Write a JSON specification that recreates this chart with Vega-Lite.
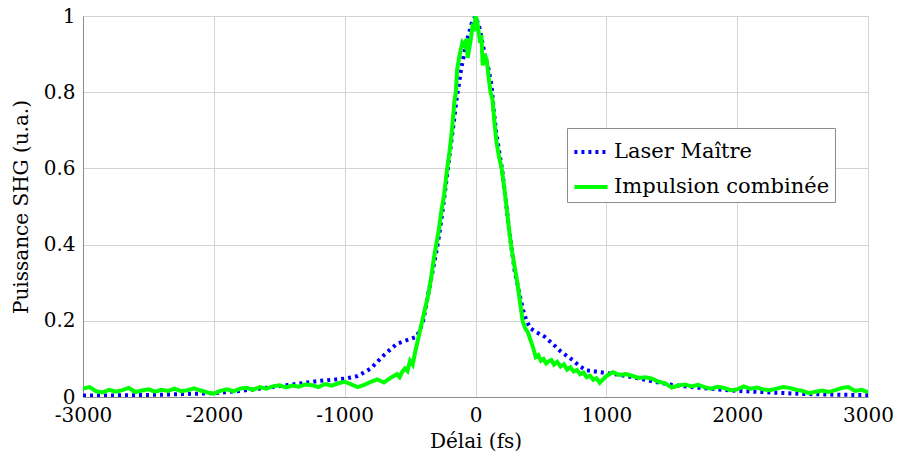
{
  "$schema": "https://vega.github.io/schema/vega-lite/v6.json",
  "width": 785,
  "height": 381,
  "autosize": {"type": "none"},
  "padding": {"left": 83, "top": 16, "right": 30, "bottom": 62},
  "background": "white",
  "config": {
    "view": {"stroke": "#8c8c8c", "strokeWidth": 1},
    "font": "DejaVu Serif"
  },
  "datasets": {
    "laser": [
      {"t": -3000, "p": 0.004, "s": "Laser Maître"}, {"t": -2800, "p": 0.004, "s": "Laser Maître"}, {"t": -2600, "p": 0.005, "s": "Laser Maître"}, {"t": -2400, "p": 0.006, "s": "Laser Maître"}, {"t": -2200, "p": 0.008, "s": "Laser Maître"}, {"t": -2000, "p": 0.010, "s": "Laser Maître"}, {"t": -1800, "p": 0.016, "s": "Laser Maître"}, {"t": -1600, "p": 0.024, "s": "Laser Maître"}, {"t": -1400, "p": 0.033, "s": "Laser Maître"}, {"t": -1200, "p": 0.042, "s": "Laser Maître"}, {"t": -1000, "p": 0.048, "s": "Laser Maître"}, {"t": -900, "p": 0.055, "s": "Laser Maître"}, {"t": -800, "p": 0.075, "s": "Laser Maître"}, {"t": -700, "p": 0.11, "s": "Laser Maître"}, {"t": -600, "p": 0.14, "s": "Laser Maître"}, {"t": -500, "p": 0.152, "s": "Laser Maître"}, {"t": -450, "p": 0.158, "s": "Laser Maître"}, {"t": -420, "p": 0.18, "s": "Laser Maître"}, {"t": -400, "p": 0.20, "s": "Laser Maître"}, {"t": -350, "p": 0.29, "s": "Laser Maître"}, {"t": -300, "p": 0.38, "s": "Laser Maître"}, {"t": -275, "p": 0.43, "s": "Laser Maître"}, {"t": -240, "p": 0.52, "s": "Laser Maître"}, {"t": -200, "p": 0.63, "s": "Laser Maître"}, {"t": -170, "p": 0.71, "s": "Laser Maître"}, {"t": -145, "p": 0.78, "s": "Laser Maître"}, {"t": -110, "p": 0.86, "s": "Laser Maître"}, {"t": -70, "p": 0.93, "s": "Laser Maître"}, {"t": -30, "p": 0.98, "s": "Laser Maître"}, {"t": 0, "p": 1.0, "s": "Laser Maître"}, {"t": 30, "p": 0.97, "s": "Laser Maître"}, {"t": 70, "p": 0.9, "s": "Laser Maître"}, {"t": 100, "p": 0.86, "s": "Laser Maître"}, {"t": 122, "p": 0.82, "s": "Laser Maître"}, {"t": 140, "p": 0.75, "s": "Laser Maître"}, {"t": 160, "p": 0.69, "s": "Laser Maître"}, {"t": 206, "p": 0.59, "s": "Laser Maître"}, {"t": 230, "p": 0.52, "s": "Laser Maître"}, {"t": 260, "p": 0.43, "s": "Laser Maître"}, {"t": 300, "p": 0.33, "s": "Laser Maître"}, {"t": 336, "p": 0.27, "s": "Laser Maître"}, {"t": 370, "p": 0.22, "s": "Laser Maître"}, {"t": 390, "p": 0.20, "s": "Laser Maître"}, {"t": 420, "p": 0.18, "s": "Laser Maître"}, {"t": 466, "p": 0.17, "s": "Laser Maître"}, {"t": 530, "p": 0.158, "s": "Laser Maître"}, {"t": 589, "p": 0.14, "s": "Laser Maître"}, {"t": 650, "p": 0.12, "s": "Laser Maître"}, {"t": 742, "p": 0.097, "s": "Laser Maître"}, {"t": 800, "p": 0.08, "s": "Laser Maître"}, {"t": 849, "p": 0.07, "s": "Laser Maître"}, {"t": 1000, "p": 0.063, "s": "Laser Maître"}, {"t": 1100, "p": 0.058, "s": "Laser Maître"}, {"t": 1200, "p": 0.052, "s": "Laser Maître"}, {"t": 1300, "p": 0.045, "s": "Laser Maître"}, {"t": 1400, "p": 0.038, "s": "Laser Maître"}, {"t": 1500, "p": 0.032, "s": "Laser Maître"}, {"t": 1600, "p": 0.028, "s": "Laser Maître"}, {"t": 1713, "p": 0.024, "s": "Laser Maître"}, {"t": 1850, "p": 0.02, "s": "Laser Maître"}, {"t": 2000, "p": 0.016, "s": "Laser Maître"}, {"t": 2250, "p": 0.012, "s": "Laser Maître"}, {"t": 2500, "p": 0.008, "s": "Laser Maître"}, {"t": 2750, "p": 0.006, "s": "Laser Maître"}, {"t": 3000, "p": 0.005, "s": "Laser Maître"}
    ],
    "combo": [
      {"t": -3000, "p": 0.022}, {"t": -2950, "p": 0.026}, {"t": -2900, "p": 0.015}, {"t": -2850, "p": 0.012}, {"t": -2800, "p": 0.019}, {"t": -2750, "p": 0.014}, {"t": -2700, "p": 0.018}, {"t": -2650, "p": 0.024}, {"t": -2600, "p": 0.013}, {"t": -2550, "p": 0.017}, {"t": -2500, "p": 0.020}, {"t": -2450, "p": 0.014}, {"t": -2400, "p": 0.019}, {"t": -2350, "p": 0.016}, {"t": -2300, "p": 0.022}, {"t": -2250, "p": 0.015}, {"t": -2200, "p": 0.018}, {"t": -2150, "p": 0.023}, {"t": -2100, "p": 0.017}, {"t": -2050, "p": 0.012}, {"t": -2000, "p": 0.009}, {"t": -1950, "p": 0.016}, {"t": -1900, "p": 0.020}, {"t": -1850, "p": 0.015}, {"t": -1800, "p": 0.022}, {"t": -1750, "p": 0.024}, {"t": -1700, "p": 0.019}, {"t": -1650, "p": 0.026}, {"t": -1600, "p": 0.022}, {"t": -1550, "p": 0.028}, {"t": -1500, "p": 0.031}, {"t": -1450, "p": 0.025}, {"t": -1400, "p": 0.030}, {"t": -1350, "p": 0.027}, {"t": -1300, "p": 0.033}, {"t": -1250, "p": 0.031}, {"t": -1200, "p": 0.026}, {"t": -1150, "p": 0.034}, {"t": -1100, "p": 0.030}, {"t": -1050, "p": 0.036}, {"t": -1000, "p": 0.040}, {"t": -950, "p": 0.033}, {"t": -900, "p": 0.026}, {"t": -850, "p": 0.032}, {"t": -800, "p": 0.040}, {"t": -750, "p": 0.046}, {"t": -700, "p": 0.038}, {"t": -650, "p": 0.050}, {"t": -600, "p": 0.060}, {"t": -580, "p": 0.052}, {"t": -560, "p": 0.066}, {"t": -540, "p": 0.075}, {"t": -520, "p": 0.068}, {"t": -500, "p": 0.095}, {"t": -480, "p": 0.085}, {"t": -460, "p": 0.12}, {"t": -440, "p": 0.15}, {"t": -420, "p": 0.18}, {"t": -400, "p": 0.21}, {"t": -380, "p": 0.24}, {"t": -360, "p": 0.27}, {"t": -340, "p": 0.31}, {"t": -320, "p": 0.36}, {"t": -300, "p": 0.40}, {"t": -280, "p": 0.44}, {"t": -260, "p": 0.49}, {"t": -240, "p": 0.53}, {"t": -220, "p": 0.59}, {"t": -200, "p": 0.64}, {"t": -180, "p": 0.70}, {"t": -160, "p": 0.78}, {"t": -150, "p": 0.80}, {"t": -140, "p": 0.86}, {"t": -120, "p": 0.90}, {"t": -100, "p": 0.93}, {"t": -80, "p": 0.92}, {"t": -70, "p": 0.94}, {"t": -60, "p": 0.89}, {"t": -40, "p": 0.93}, {"t": -20, "p": 0.98}, {"t": -10, "p": 0.96}, {"t": 0, "p": 1.0}, {"t": 10, "p": 0.99}, {"t": 20, "p": 0.97}, {"t": 35, "p": 0.93}, {"t": 45, "p": 0.95}, {"t": 55, "p": 0.87}, {"t": 70, "p": 0.90}, {"t": 85, "p": 0.885}, {"t": 100, "p": 0.84}, {"t": 115, "p": 0.80}, {"t": 130, "p": 0.78}, {"t": 145, "p": 0.72}, {"t": 160, "p": 0.67}, {"t": 180, "p": 0.63}, {"t": 200, "p": 0.60}, {"t": 220, "p": 0.55}, {"t": 240, "p": 0.49}, {"t": 260, "p": 0.43}, {"t": 280, "p": 0.38}, {"t": 300, "p": 0.34}, {"t": 320, "p": 0.30}, {"t": 340, "p": 0.25}, {"t": 360, "p": 0.20}, {"t": 380, "p": 0.18}, {"t": 400, "p": 0.17}, {"t": 420, "p": 0.15}, {"t": 440, "p": 0.13}, {"t": 460, "p": 0.105}, {"t": 480, "p": 0.11}, {"t": 500, "p": 0.095}, {"t": 520, "p": 0.10}, {"t": 540, "p": 0.088}, {"t": 560, "p": 0.094}, {"t": 580, "p": 0.097}, {"t": 600, "p": 0.085}, {"t": 625, "p": 0.092}, {"t": 650, "p": 0.08}, {"t": 675, "p": 0.086}, {"t": 700, "p": 0.072}, {"t": 725, "p": 0.078}, {"t": 750, "p": 0.067}, {"t": 775, "p": 0.071}, {"t": 800, "p": 0.06}, {"t": 825, "p": 0.064}, {"t": 850, "p": 0.052}, {"t": 875, "p": 0.056}, {"t": 900, "p": 0.045}, {"t": 925, "p": 0.049}, {"t": 950, "p": 0.037}, {"t": 975, "p": 0.046}, {"t": 1000, "p": 0.055}, {"t": 1050, "p": 0.065}, {"t": 1100, "p": 0.058}, {"t": 1150, "p": 0.060}, {"t": 1200, "p": 0.055}, {"t": 1250, "p": 0.050}, {"t": 1300, "p": 0.052}, {"t": 1350, "p": 0.048}, {"t": 1400, "p": 0.040}, {"t": 1450, "p": 0.036}, {"t": 1500, "p": 0.025}, {"t": 1550, "p": 0.030}, {"t": 1600, "p": 0.033}, {"t": 1650, "p": 0.028}, {"t": 1700, "p": 0.032}, {"t": 1750, "p": 0.026}, {"t": 1800, "p": 0.022}, {"t": 1850, "p": 0.027}, {"t": 1900, "p": 0.024}, {"t": 1950, "p": 0.018}, {"t": 2000, "p": 0.020}, {"t": 2050, "p": 0.028}, {"t": 2100, "p": 0.022}, {"t": 2150, "p": 0.025}, {"t": 2200, "p": 0.020}, {"t": 2250, "p": 0.018}, {"t": 2300, "p": 0.022}, {"t": 2350, "p": 0.026}, {"t": 2400, "p": 0.024}, {"t": 2450, "p": 0.019}, {"t": 2500, "p": 0.016}, {"t": 2550, "p": 0.010}, {"t": 2600, "p": 0.014}, {"t": 2650, "p": 0.017}, {"t": 2700, "p": 0.013}, {"t": 2750, "p": 0.018}, {"t": 2800, "p": 0.024}, {"t": 2850, "p": 0.026}, {"t": 2900, "p": 0.016}, {"t": 2950, "p": 0.019}, {"t": 3000, "p": 0.013}
    ]
  },
  "encoding": {
    "x": {
      "field": "t", "type": "quantitative",
      "scale": {"domain": [-3000, 3000], "nice": false, "zero": false},
      "axis": {
        "title": "Délai (fs)", "values": [-3000, -2000, -1000, 0, 1000, 2000, 3000],
        "labelExpr": "datum.value < 0 ? '-' + abs(datum.value) : '' + datum.value",
        "grid": true, "gridColor": "#d4d4d4", "gridWidth": 1,
        "domainColor": "#8c8c8c", "ticks": false,
        "labelFont": "DejaVu Serif", "labelFontSize": 20, "labelColor": "#000000",
        "labelPadding": 8, "labelFlush": false,
        "titleFont": "DejaVu Serif", "titleFontSize": 20, "titleFontWeight": "normal",
        "titleColor": "#000000", "titlePadding": 6
      }
    },
    "y": {
      "field": "p", "type": "quantitative",
      "scale": {"domain": [0, 1], "nice": false},
      "axis": {
        "title": "Puissance SHG (u.a.)", "values": [0, 0.2, 0.4, 0.6, 0.8, 1],
        "format": "~g",
        "grid": true, "gridColor": "#d4d4d4", "gridWidth": 1,
        "domainColor": "#8c8c8c", "ticks": false,
        "labelFont": "DejaVu Serif", "labelFontSize": 20, "labelColor": "#000000",
        "labelPadding": 8, "labelFlush": false,
        "titleFont": "DejaVu Serif", "titleFontSize": 20, "titleFontWeight": "normal",
        "titleColor": "#000000", "titlePadding": 12
      }
    }
  },
  "layer": [
    {
      "data": {"name": "laser"},
      "mark": {"type": "line", "strokeWidth": 4, "clip": true},
      "encoding": {
        "color": {
          "field": "s", "type": "nominal",
          "scale": {"domain": ["Laser Maître", "Impulsion combinée"], "range": ["#0000ff", "#00ff00"]},
          "legend": {
            "title": null, "orient": "none", "legendX": 484, "legendY": 112,
            "symbolType": "stroke", "symbolSize": 1100, "symbolStrokeWidth": 4,
            "labelFont": "DejaVu Serif", "labelFontSize": 21, "labelColor": "#000000",
            "labelLimit": 400, "rowPadding": 6, "padding": 5, "labelOffset": 4,
            "fillColor": "#ffffff", "strokeColor": "#8c8c8c"
          }
        },
        "strokeDash": {
          "field": "s", "type": "nominal",
          "scale": {"domain": ["Laser Maître", "Impulsion combinée"], "range": [[3, 4], [1, 0]]},
          "legend": {
            "title": null, "orient": "none", "legendX": 484, "legendY": 112,
            "symbolType": "stroke", "symbolSize": 1100, "symbolStrokeWidth": 4,
            "labelFont": "DejaVu Serif", "labelFontSize": 21, "labelColor": "#000000",
            "labelLimit": 400, "rowPadding": 6, "padding": 5, "labelOffset": 4,
            "fillColor": "#ffffff", "strokeColor": "#8c8c8c"
          }
        }
      }
    },
    {
      "data": {"name": "combo"},
      "mark": {"type": "line", "strokeWidth": 4, "color": "#00ff00", "clip": true},
      "encoding": {}
    }
  ]
}
